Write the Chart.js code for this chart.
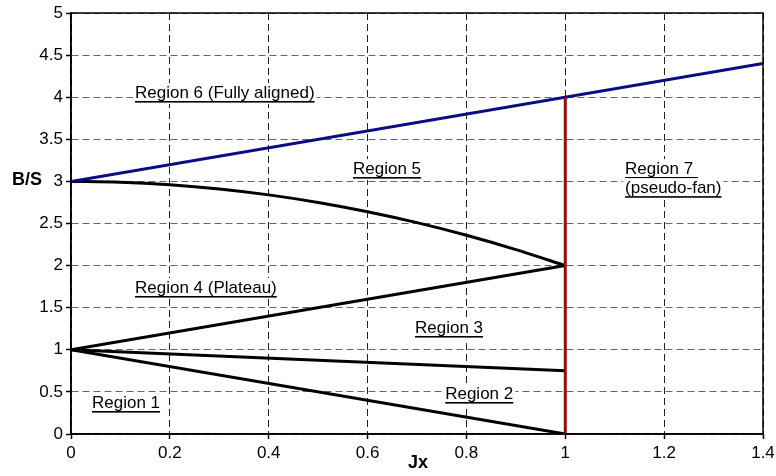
<!DOCTYPE html>
<html>
<head>
<meta charset="utf-8">
<script src="https://cdn.jsdelivr.net/npm/chart.js@4.4.1/dist/chart.umd.min.js"></script>
<style>
  html, body { margin: 0; padding: 0; background: #fff; }
  #wrap { width: 776px; height: 476px; }
</style>
</head>
<body>
<div id="wrap"><canvas id="regionChart"></canvas></div>
<script>
// ----------- Data -----------
const jxTicks = [0, 0.2, 0.4, 0.6, 0.8, 1, 1.2, 1.4];
const bsTicks = [0, 0.5, 1, 1.5, 2, 2.5, 3, 3.5, 4, 4.5, 5];

const alignedJx = [0, 1.4];
const alignedBS = [3, 4.4];

const fanWallJx = [1, 1];
const fanWallBS = [0, 4];

const curveJx = [0, 0.1, 0.2, 0.3, 0.4, 0.5, 0.6, 0.7, 0.8, 0.9, 1];
const curveBS = [3, 2.99, 2.96, 2.91, 2.84, 2.75, 2.64, 2.51, 2.36, 2.19, 2];

const plateauJx = [0, 1];
const plateauBS = [1, 2];

const region3Jx = [0, 1];
const region3BS = [1, 0.75];

const region2Jx = [0, 1];
const region2BS = [1, 0];

const regionNames = ['Region 6 (Fully aligned)', 'Region 5', 'Region 7 ', '(pseudo-fan)',
    'Region 4 (Plateau)', 'Region 3', 'Region 2', 'Region 1'];
const regionJx = [0.1295, 0.5705, 1.121, 1.121, 0.1295, 0.696, 0.757, 0.0425];
const regionBS = [4.05, 3.147, 3.147, 2.92, 1.734, 1.259, 0.475, 0.368];

const toPoints = (xs, ys) => xs.map((x, i) => ({ x: x, y: ys[i] }));
const FONT = '"Liberation Sans", Arial, Helvetica, sans-serif';

// ----------- Plugins -----------
const frameAndLabels = {
    id: 'frameAndLabels',
    afterDatasetsDraw(chart) {
        const { ctx, chartArea: a, scales } = chart;
        ctx.save();
        // region labels with white box + underline
        ctx.font = '17px ' + FONT;
        ctx.textBaseline = 'middle';
        ctx.textAlign = 'left';
        regionNames.forEach((name, i) => {
            const px = scales.x.getPixelForValue(regionJx[i]);
            const py = scales.y.getPixelForValue(regionBS[i]);
            const w = ctx.measureText(name).width;
            ctx.fillStyle = '#fff';
            ctx.fillRect(px - 2, py - 10, w + 4, 21);
            ctx.fillStyle = '#000';
            ctx.fillText(name, px, py);
            ctx.fillRect(px, py + 8, w, 1.6);
        });
        // plot frame
        ctx.strokeStyle = '#000';
        ctx.lineWidth = 1.5;
        ctx.setLineDash([]);
        ctx.strokeRect(a.left, a.top, a.right - a.left, a.bottom - a.top);
        // axis titles
        ctx.font = 'bold 18px ' + FONT;
        ctx.textAlign = 'left';
        ctx.fillText('B/S', 12, 180);
        ctx.textAlign = 'center';
        ctx.fillText('Jx', 418, 463);
        ctx.restore();
    }
};

const plainTick = v => String(Math.round(v * 10) / 10);

// ----------- Chart -----------
const ctx = document.getElementById('regionChart').getContext('2d');
new Chart(ctx, {
    type: 'scatter',
    data: {
        datasets: [
            { data: toPoints(fanWallJx, fanWallBS), borderColor: '#9a0c0c' },
            { data: toPoints(alignedJx, alignedBS), borderColor: '#0b0b86' },
            { data: toPoints(curveJx, curveBS), borderColor: '#000', tension: 0.3 },
            { data: toPoints(plateauJx, plateauBS), borderColor: '#000' },
            { data: toPoints(region3Jx, region3BS), borderColor: '#000' },
            { data: toPoints(region2Jx, region2BS), borderColor: '#000' }
        ].map(d => Object.assign({ showLine: true, borderWidth: 3, pointRadius: 0, fill: false }, d))
    },
    options: {
        responsive: true,
        maintainAspectRatio: false,
        animation: false,
        events: [],
        layout: { padding: { top: 13, right: 13, left: 0, bottom: 0 } },
        plugins: { legend: { display: false }, tooltip: { enabled: false } },
        scales: {
            x: {
                type: 'linear',
                min: 0,
                max: 1.4,
                afterBuildTicks: s => { s.ticks = jxTicks.map(v => ({ value: v })); },
                afterFit: s => { s.height = 42; s.paddingLeft = 0; s.paddingRight = 0; },
                ticks: { color: '#000', font: { family: FONT, size: 17 }, padding: 4, maxRotation: 0, callback: plainTick },
                grid: { color: '#222', lineWidth: 1, tickLength: 5, tickColor: '#000', tickWidth: 1.5 },
                border: { display: true, color: '#000', width: 1.5, dash: [7, 4] }
            },
            y: {
                type: 'linear',
                min: 0,
                max: 5,
                afterBuildTicks: s => { s.ticks = bsTicks.map(v => ({ value: v })); },
                afterFit: s => { s.width = 71; s.paddingTop = 0; s.paddingBottom = 0; },
                ticks: { color: '#000', font: { family: FONT, size: 17 }, padding: 3, callback: plainTick },
                grid: { color: '#666', lineWidth: 1, tickLength: 5, tickColor: '#000', tickWidth: 1.5 },
                border: { display: true, color: '#000', width: 1.5, dash: [7, 4] }
            }
        }
    },
    plugins: [frameAndLabels]
});
</script>
</body>
</html>
